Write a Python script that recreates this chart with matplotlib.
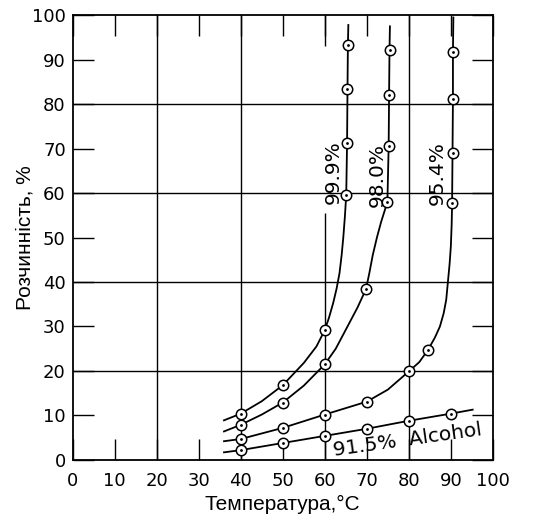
import matplotlib.pyplot as plt

# точки (маркери) для кожної кривої
t_999 = [40, 50, 60, 65.1, 65.2, 65.4, 65.5]
s_999 = [10.4, 16.8, 29.2, 59.6, 71.3, 83.4, 93.4]
t_980 = [40, 50, 60, 69.8, 74.9, 75.2, 75.3, 75.4]
s_980 = [7.9, 12.9, 21.5, 38.4, 58.1, 70.6, 82.1, 92.2]
t_954 = [40, 50, 60, 70, 80, 84.6, 90.3, 90.4, 90.5, 90.5]
s_954 = [4.7, 7.2, 10.2, 13.1, 19.9, 24.8, 57.7, 69.1, 81.2, 91.8]
t_915 = [40, 50, 60, 70, 80, 90]
s_915 = [2.2, 3.8, 5.4, 7.0, 8.8, 10.4]

# хід ліній
line_t_999 = [36, 40, 45, 50, 55, 58, 60, 61, 62, 62.8, 63.5, 64.0, 64.4, 64.8, 65.1, 65.3, 65.4, 65.5, 65.6]
line_s_999 = [8.9, 10.4, 13.2, 16.8, 21.8, 25.5, 29.2, 32, 35.3, 38.5, 42, 46, 50, 55, 59.6, 71.3, 83.4, 93.4, 97.8]
line_t_980 = [36, 40, 45, 50, 55, 60, 62.6, 65.4, 67.8, 69.8, 70.6, 71.4, 72.4, 73.4, 74.3, 74.9, 75.2, 75.3, 75.4, 75.5]
line_s_980 = [6.4, 7.9, 10.2, 12.9, 16.7, 21.5, 25, 30, 34.3, 38.4, 42, 46, 50, 53.5, 56.2, 58.1, 70.6, 82.1, 92.2, 97.5]
line_t_954 = [36, 40, 50, 60, 70, 75, 80, 82.5, 84.6, 86.2, 87.4, 88.3, 88.9, 89.3, 89.7, 90.0, 90.2, 90.3, 90.4, 90.5, 90.5, 90.6]
line_s_954 = [4.2, 4.7, 7.2, 10.2, 13.1, 15.8, 19.9, 22, 24.8, 27.5, 30, 33, 36, 40, 44, 48, 53, 57.7, 69.1, 81.2, 91.8, 99.5]
line_t_915 = [36, 40, 50, 60, 70, 80, 90, 95.2]
line_s_915 = [1.7, 2.2, 3.8, 5.4, 7.0, 8.8, 10.4, 11.3]

ticks = list(range(0, 101, 10))
grid_vals = [20, 40, 60, 80]

fig = plt.figure(figsize=(5.47, 5.25), dpi=100)
ax = fig.add_axes([0.133, 0.124, 0.768, 0.847])

# сітка; вертикаль 60 має розрив під підписом 99.9%
for v in grid_vals:
    ax.axhline(v, color='black', lw=1.0, zorder=1)
    if v == 60:
        ax.vlines([v, v], [0, 93], [55.5, 100], color='black', lw=1.0, zorder=1)
    else:
        ax.axvline(v, color='black', lw=1.0, zorder=1)

series = [
    (line_t_999, line_s_999, t_999, s_999),
    (line_t_980, line_s_980, t_980, s_980),
    (line_t_954, line_s_954, t_954, s_954),
    (line_t_915, line_s_915, t_915, s_915),
]
for lt, ls, pt, ps in series:
    ax.plot(lt, ls, color='black', lw=1.3, zorder=2)
    ax.plot(pt, ps, 'o', ms=7.5, mfc='white', mec='black', mew=1.1, zorder=3)
    ax.plot(pt, ps, '.', ms=2, color='black', zorder=4)

# підписи кривих
lab = dict(rotation=90, rotation_mode='anchor', ha='center', va='baseline', fontsize=14.5)
ax.text(63.4, 64.8, '99.9%', **lab)
ax.text(73.7, 64.0, '98.0%', **lab)
ax.text(88.0, 64.6, '95.4%', **lab)
ax.text(62.3, 0.9, '91.5%  Alcohol', rotation=8, rotation_mode='anchor',
        ha='left', va='baseline', fontsize=14.5)

ax.set_xlim(0, 100)
ax.set_ylim(0, 100)
ax.set_xticks(ticks)
ax.set_yticks(ticks)
ax.tick_params(direction='in', length=15, width=1.0, top=True, right=True,
               labelsize=13, pad=5)
ax.tick_params(axis='x', pad=9)
for sp in ax.spines.values():
    sp.set_linewidth(1.3)

ax.set_xlabel('Температура,°C', fontsize=15, family='Liberation Sans', labelpad=3)
ax.set_ylabel('Розчинність, %', fontsize=15, family='Liberation Sans', labelpad=-1.5)

fig.savefig('out.png', dpi=100)
